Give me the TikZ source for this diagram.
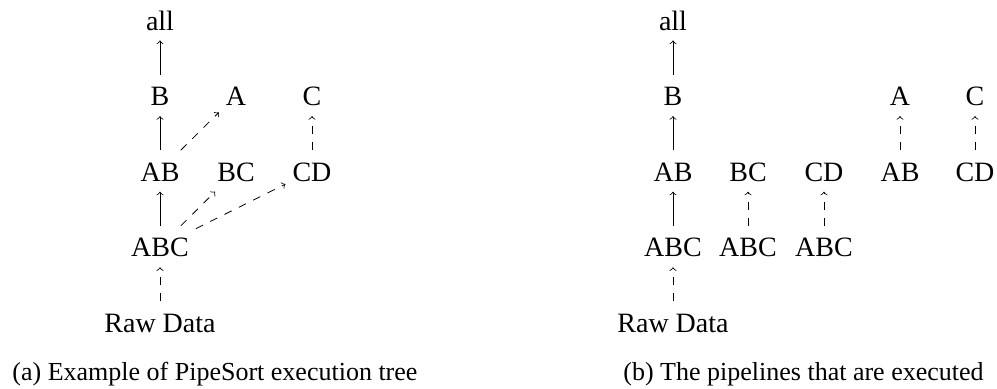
\documentclass[tikz,border=0pt]{standalone}
\usepackage{fontspec}
\setmainfont{Liberation Serif}
\usepackage{tikz}

\begin{document}
\begin{tikzpicture}[x=1pt,y=1pt,
  cube/.style={anchor=base,font=\fontsize{14}{16}\selectfont,text height=12pt,text depth=1.7pt},
  pipe/.style={->},
  sorted/.style={->,dash pattern=on 4pt off 4pt}]
\useasboundingbox (0,0) rectangle (498.5,194);

% execution tree
\node[cube] (all)  at (80,179)    {all};
\node[cube] (B)    at (80,141.2)  {B};
\node[cube] (A)    at (118,141.2) {A};
\node[cube] (C)    at (156,141.2) {C};
\node[cube] (AB)   at (80,103.4)  {AB};
\node[cube] (BC)   at (118,103.4) {BC};
\node[cube] (CD)   at (156,103.4) {CD};
\node[cube] (ABC)  at (80,65.6)   {ABC};
\node[cube] (raw)  at (80,27.8)   {Raw Data};

\draw[pipe] (B) -- (all);
\draw[pipe] (AB) -- (B);
\draw[pipe] (ABC) -- (AB);
\draw[sorted] (AB) -- (A);
\draw[sorted] (ABC) -- (BC);
\draw[sorted] (ABC) -- (CD);
\draw[sorted] (CD) -- (C);
\draw[sorted] (raw) -- (ABC);

% pipelines
\node[cube] (pall)  at (336.5,179)   {all};
\node[cube] (pB)    at (336.5,141.2) {B};
\node[cube] (pAB)   at (336.5,103.4) {AB};
\node[cube] (pABC)  at (336.5,65.6)  {ABC};
\node[cube] (praw)  at (336.5,27.8)  {Raw Data};
\node[cube] (pBC)   at (374,103.4)   {BC};
\node[cube] (pABC2) at (374,65.6)    {ABC};
\node[cube] (pCD)   at (412,103.4)   {CD};
\node[cube] (pABC3) at (412,65.6)    {ABC};
\node[cube] (pA)    at (450,141.2)   {A};
\node[cube] (pAB2)  at (450,103.4)   {AB};
\node[cube] (pC)    at (487.5,141.2) {C};
\node[cube] (pCD2)  at (487.5,103.4) {CD};

\draw[pipe] (pB) -- (pall);
\draw[pipe] (pAB) -- (pB);
\draw[pipe] (pABC) -- (pAB);
\draw[sorted] (praw) -- (pABC);
\draw[sorted] (pABC2) -- (pBC);
\draw[sorted] (pABC3) -- (pCD);
\draw[sorted] (pAB2) -- (pA);
\draw[sorted] (pCD2) -- (pC);

% captions
\node[anchor=base west,inner sep=0pt,font=\fontsize{13}{15}\selectfont] (capa) at (6,4)
  {(a) Example of PipeSort execution tree};
\node[anchor=base west,inner sep=0pt,font=\fontsize{13}{15}\selectfont] (capb) at (311.5,4)
  {(b) The pipelines that are executed};
\end{tikzpicture}
\end{document}
